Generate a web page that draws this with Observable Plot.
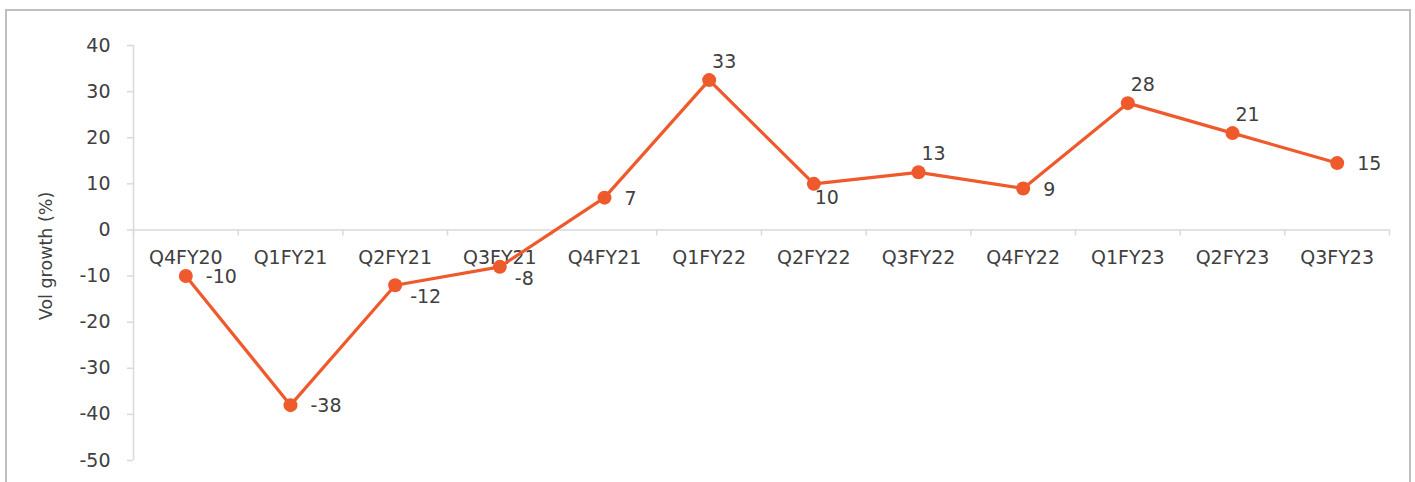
<!DOCTYPE html>
<html>
<head>
<meta charset="utf-8">
<script src="https://cdn.jsdelivr.net/npm/d3@7"></script>
<script src="https://cdn.jsdelivr.net/npm/@observablehq/plot@0.6"></script>
<style>
  html, body { margin: 0; padding: 0; background: #fff; }
  #wrap { position: relative; width: 1415px; height: 482px; overflow: hidden; }
  #frame { position: absolute; left: 5px; top: 9px; width: 1406px; height: 500px; border: 2px solid #bfbfbf; box-sizing: border-box; }
  #chart { position: absolute; left: 0; top: 0; }
</style>
</head>
<body>
<div id="wrap">
  <div id="frame"></div>
  <div id="chart"></div>
</div>
<script>
const categories = ["Q4FY20","Q1FY21","Q2FY21","Q3FY21","Q4FY21","Q1FY22","Q2FY22","Q3FY22","Q4FY22","Q1FY23","Q2FY23","Q3FY23"];
const values = [-10, -38, -12, -8, 7, 32.5, 10, 12.5, 9, 27.5, 21, 14.5];
const valueLabels = ["-10","-38","-12","-8","7","33","10","13","9","28","21","15"];
const yTicks = [40, 30, 20, 10, 0, -10, -20, -30, -40, -50];

const data = categories.map((c, i) => ({i, cat: c, v: values[i], lab: valueLabels[i]}));
const boundaries = d3.range(categories.length + 1).map(k => k - 0.5);

// label placement groups (Excel-like data label positions)
const rightSet = new Set(["Q4FY20","Q1FY21","Q4FY21","Q4FY22","Q3FY23"]);
const belowRightSet = new Set(["Q2FY21","Q3FY21"]);
const belowSet = new Set(["Q2FY22"]);
const aboveSet = new Set(["Q1FY22","Q3FY22","Q1FY23","Q2FY23"]);

const orange = "#EF5A2C";
const textColor = "#404040";
const font = "DejaVu Sans, sans-serif";

const chart = Plot.plot({
  width: 1415,
  height: 482,
  marginLeft: 133,
  marginRight: 26,
  marginTop: 45,
  marginBottom: 22,
  style: {fontFamily: font, fontSize: "19px", color: textColor, background: "transparent", overflow: "visible"},
  x: {type: "linear", domain: [-0.5, categories.length - 0.5], axis: null},
  y: {domain: [-50, 40], axis: null},
  marks: [
    // y axis
    Plot.ruleX([-0.5], {y1: -50, y2: 40, stroke: "#d9d9d9", strokeWidth: 1.5}),
    Plot.ruleY(yTicks, {y: d => d, x1: -0.5, x2: -0.5, insetLeft: -6, stroke: "#d9d9d9", strokeWidth: 1.5}),
    Plot.text(yTicks, {x: -0.5, y: d => d, text: d => String(d), textAnchor: "end", dx: -23, fill: textColor, fontSize: 19}),
    // x axis at zero
    Plot.ruleY([0], {stroke: "#d9d9d9", strokeWidth: 1.5}),
    Plot.ruleX(boundaries, {x: d => d, y1: 0, y2: -1.3, stroke: "#d9d9d9", strokeWidth: 1.5}),
    Plot.text(data, {x: "i", y: 0, text: "cat", dy: 28, fill: textColor, fontSize: 19}),
    // series
    Plot.line(data, {x: "i", y: "v", stroke: orange, strokeWidth: 3.2}),
    Plot.dot(data, {x: "i", y: "v", r: 7, fill: orange, stroke: "none"}),
    // value labels
    Plot.text(data.filter(d => rightSet.has(d.cat)), {x: "i", y: "v", text: "lab", textAnchor: "start", dx: 20, dy: 1, fill: textColor, fontSize: 19}),
    Plot.text(data.filter(d => belowRightSet.has(d.cat)), {x: "i", y: "v", text: "lab", textAnchor: "start", dx: 15, dy: 12, fill: textColor, fontSize: 19}),
    Plot.text(data.filter(d => belowSet.has(d.cat)), {x: "i", y: "v", text: "lab", textAnchor: "middle", dx: 13, dy: 14, fill: textColor, fontSize: 19}),
    Plot.text(data.filter(d => aboveSet.has(d.cat)), {x: "i", y: "v", text: "lab", textAnchor: "middle", dx: 15, dy: -18, fill: textColor, fontSize: 19}),
  ]
});

// Y axis title as real text
const svg = d3.select(chart);
svg.append("text")
  .attr("transform", "translate(52,256) rotate(-90)")
  .attr("text-anchor", "middle")
  .attr("font-family", font)
  .attr("font-size", 17.5)
  .attr("fill", textColor)
  .text("Vol growth (%)");

document.getElementById("chart").appendChild(chart);
</script>
</body>
</html>
